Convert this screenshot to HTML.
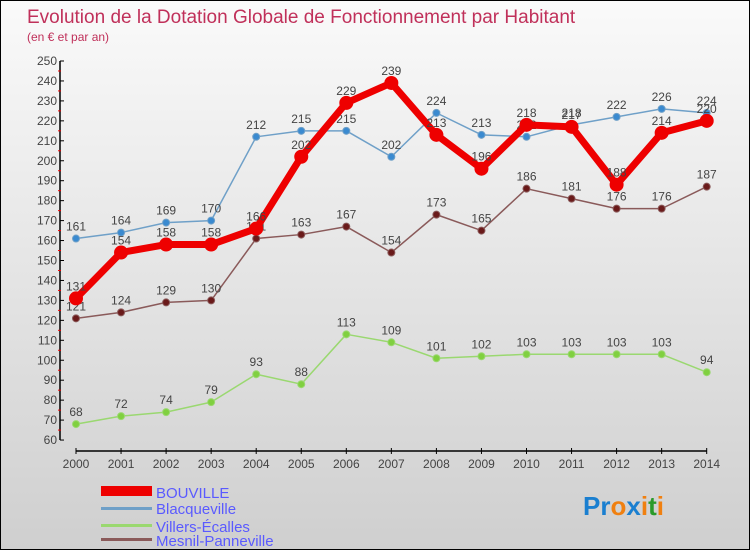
<!DOCTYPE html>
<html><head><meta charset="utf-8"><style>
body{margin:0}
#c{position:relative;width:748px;height:548px;border:1px solid #000;background:linear-gradient(#fafafa,#cfcfcf);font-family:"Liberation Sans",sans-serif;overflow:hidden}
svg text{font-family:"Liberation Sans",sans-serif}
</style></head><body>
<div id="c">
<svg id="s" width="748" height="548">
<text x="26" y="22" font-size="19" fill="#c0305a">Evolution de la Dotation Globale de Fonctionnement par Habitant</text>
<text x="26" y="40" font-size="12" fill="#c0305a">(en € et par an)</text>
<g id="ax"></g><g id="pl"></g>
<g>
<rect x="100" y="485" width="51" height="10" fill="#e00"/>
<text x="155" y="497" font-size="15" fill="#5a5aff">BOUVILLE</text>
<rect x="100" y="506" width="51" height="3" fill="#6fa0c8"/>
<text x="155" y="513" font-size="15" fill="#5a5aff">Blacqueville</text>
<rect x="100" y="523" width="51" height="3" fill="#9ad870"/>
<text x="155" y="531" font-size="15" fill="#5a5aff">Villers-Écalles</text>
<rect x="100" y="537" width="51" height="3" fill="#8a5a5a"/>
<text x="155" y="545" font-size="15" fill="#5a5aff">Mesnil-Panneville</text>
</g>
<text x="582" y="514" font-size="26" font-weight="bold"><tspan fill="#1a7fd0">Pr</tspan><tspan fill="#f08010">o</tspan><tspan fill="#1a7fd0">x</tspan><tspan fill="#f08010">i</tspan><tspan fill="#2a9a2a">t</tspan><tspan fill="#f08010">i</tspan></text>
</svg></div>
<script>
const years=[2000,2001,2002,2003,2004,2005,2006,2007,2008,2009,2010,2011,2012,2013,2014];
const yTicks=[60,70,80,90,100,110,120,130,140,150,160,170,180,190,200,210,220,230,240,250];
const bouville=[131,154,158,158,166,202,229,239,213,196,218,217,188,214,220];
const blacqueville=[161,164,169,170,212,215,215,202,224,213,212,218,222,226,224];
const villers=[68,72,74,79,93,88,113,109,101,102,103,103,103,103,94];
const mesnil=[121,124,129,130,161,163,167,154,173,165,186,181,176,176,187];
const NS="http://www.w3.org/2000/svg";
const X=i=>75+i*45.05, Y=v=>60+(250-v)*1.995;
function mk(t,a,p){const e=document.createElementNS(NS,t);for(const k in a)e.setAttribute(k,a[k]);p.appendChild(e);return e;}
const ax=document.getElementById('ax'),pl=document.getElementById('pl');
const yl=mk('line',{x1:59,y1:Y(250),x2:59,y2:Y(60),stroke:'#000','stroke-width':1.5},ax);


yTicks.forEach(v=>{
 mk('line',{x1:59,y1:Y(v),x2:63,y2:Y(v),stroke:'#000'},ax);
 if(v<250)mk('line',{x1:57,y1:Y(v+5),x2:60,y2:Y(v+5),stroke:'#e00'},ax);
 const t=mk('text',{x:56,y:Y(v)+4,'font-size':12,fill:'#444','text-anchor':'end'},ax);t.textContent=v;
 
 
});
const xl=mk('line',{x1:X(0),y1:450,x2:X(14),y2:450,stroke:'#000','stroke-width':1.5},ax);


years.forEach((y,i)=>{
 mk('line',{x1:X(i),y1:447,x2:X(i),y2:453,stroke:'#000'},ax);
 const t=mk('text',{x:X(i),y:467,'font-size':12,fill:'#444','text-anchor':'middle'},ax);t.textContent=y;
 
 
});
function series(d,col,dot,w,r,name){
 const g=mk('g',{},pl);
 
 
 mk('polyline',{points:d.map((v,i)=>X(i)+','+Y(v)).join(' '),fill:'none',stroke:col,'stroke-width':w,'stroke-linejoin':'round'},g);
 d.forEach((v,i)=>{
  const c=mk('circle',{cx:X(i),cy:Y(v),r:r,fill:dot,stroke:col,'stroke-width':1},g);
  
  
  const t=mk('text',{x:X(i),y:Y(v)-8,'font-size':12,fill:'#444','text-anchor':'middle'},g);t.textContent=v;
 });
}
series(villers,'#9ad870','#80d040',1.5,3.5,'villers');
series(mesnil,'#8a5a5a','#6a1a1a',1.5,3.5,'mesnil');
series(blacqueville,'#6fa0c8','#3a8ad0',1.5,3.5,'blacqueville');
series(bouville,'#e00','#e00',7,6.5,'bouville');
</script>
</body></html>
